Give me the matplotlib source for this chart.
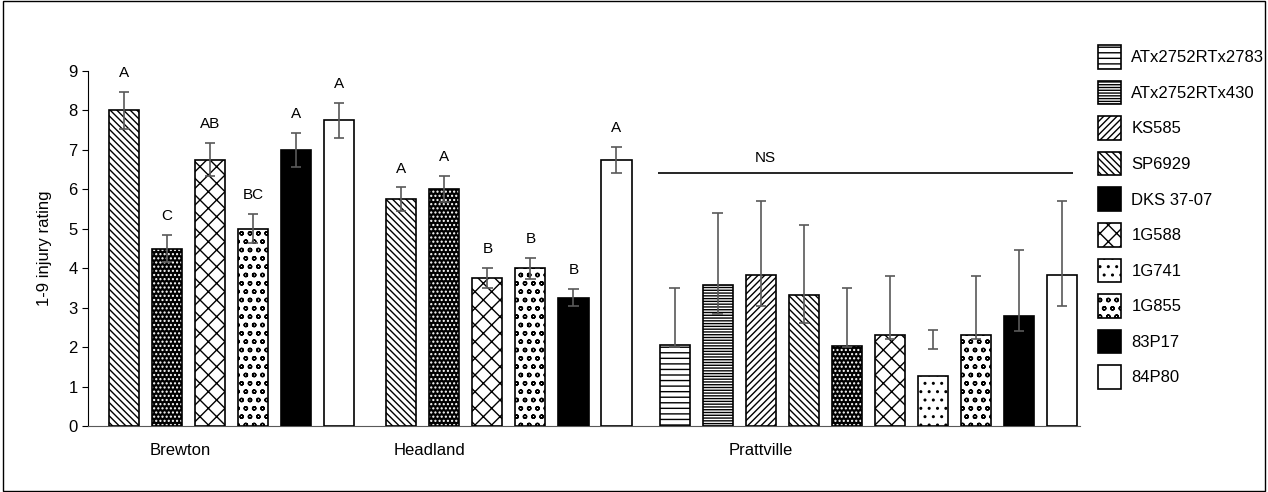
import matplotlib
matplotlib.use("Agg")
import matplotlib.pyplot as plt
from matplotlib.patches import Rectangle, Patch
import numpy as np

plt.rcParams['font.family'] = ['Liberation Sans', 'DejaVu Sans']
plt.rcParams['hatch.linewidth'] = 1.0

hybrids = ["ATx2752RTx2783", "ATx2752RTx430", "KS585", "SP6929", "DKS 37-07",
           "1G588", "1G741", "1G855", "83P17", "84P80"]
locations = ["Brewton", "Headland", "Prattville"]

brewton_hyb = ["SP6929", "DKS 37-07", "1G588", "1G855", "83P17", "84P80"]
brewton_val = [8.0, 4.5, 6.75, 5.0, 7.0, 7.75]
brewton_err = [0.47, 0.35, 0.42, 0.37, 0.43, 0.45]
brewton_let = ["A", "C", "AB", "BC", "A", "A"]

headland_hyb = ["SP6929", "DKS 37-07", "1G588", "1G855", "83P17", "84P80"]
headland_val = [5.75, 6.0, 3.75, 4.0, 3.25, 6.75]
headland_err = [0.3, 0.33, 0.25, 0.27, 0.22, 0.33]
headland_let = ["A", "A", "B", "B", "B", "A"]

pratt_hyb = hybrids
pratt_val = [2.05, 3.57, 3.83, 3.33, 2.03, 2.3, 1.28, 2.3, 2.8, 3.83]
pratt_low = [2.0, 2.85, 3.05, 2.62, 2.0, 2.2, 1.95, 2.2, 2.42, 3.03]
pratt_high = [3.5, 5.4, 5.7, 5.1, 3.5, 3.8, 2.43, 3.8, 4.47, 5.7]

styles = {
    "ATx2752RTx2783": dict(fc="white", hatch="---", hc="black"),
    "ATx2752RTx430": dict(fc="white", hatch="------", hc="black"),
    "KS585": dict(fc="white", hatch="/////", hc="black"),
    "SP6929": dict(fc="white", hatch="\\\\\\\\\\", hc="black"),
    "DKS 37-07": dict(fc="black", hatch="....", hc="white"),
    "1G588": dict(fc="white", hatch="xx", hc="black"),
    "1G741": dict(fc="white", hatch="..", hc="black"),
    "1G855": dict(fc="white", hatch="oo", hc="black"),
    "83P17": dict(fc="black", hatch=None, hc="black"),
    "84P80": dict(fc="white", hatch=None, hc="black"),
}

fig = plt.figure(figsize=(12.68, 4.92), dpi=100)
fig.patches.append(Rectangle((0.002, 0.003), 0.996, 0.994, transform=fig.transFigure,
                             fill=False, edgecolor="black", lw=1))
ax = fig.add_axes([88/1268, (492-426)/492, (1080-88)/1268, 355/492])

W = 0.7
def draw_bar(x, v, name):
    s = styles[name]
    ax.bar(x, v, W, color=s["fc"], edgecolor=s["hc"], hatch=s["hatch"], lw=0, zorder=2)
    ax.bar(x, v, W, fill=False, edgecolor="black", lw=1.2, zorder=3)

def errbar(x, lo, hi):
    ax.vlines(x, lo, hi, color="#595959", lw=1.2, zorder=4)
    ax.hlines([lo, hi], x-0.12, x+0.12, color="#595959", lw=1.2, zorder=4)

b_pos = np.arange(6) + 0.0
h_pos = np.arange(6) + 6.44
p_pos = np.arange(10) + 12.79

for x, v, e, n, l in zip(b_pos, brewton_val, brewton_err, brewton_hyb, brewton_let):
    draw_bar(x, v, n); errbar(x, v-e, v+e)
    ax.text(x, v+e+0.3, l, ha="center", va="bottom", fontsize=11)
for x, v, e, n, l in zip(h_pos, headland_val, headland_err, headland_hyb, headland_let):
    draw_bar(x, v, n); errbar(x, v-e, v+e)
    ax.text(x, v+e+0.3, l, ha="center", va="bottom", fontsize=11)
for x, v, lo, hi, n in zip(p_pos, pratt_val, pratt_low, pratt_high, pratt_hyb):
    draw_bar(x, v, n); errbar(x, lo, hi)

ax.hlines(6.42, 12.4, 22.05, color="black", lw=1.2)
ax.text(14.9, 6.62, "NS", ha="center", va="bottom", fontsize=11)

ax.set_xlim(-0.84, 22.21)
ax.set_ylim(0, 9)
ax.set_yticks(range(10))
ax.tick_params(axis="y", direction="out", labelsize=12, length=4)
ax.set_xticks([1.3, 7.1, 14.8])
ax.set_xticklabels(locations, fontsize=12)
ax.tick_params(axis="x", length=0, pad=12)
for s in ["top", "right"]:
    ax.spines[s].set_visible(False)
ax.spines["bottom"].set_color("#595959")
ax.set_ylabel("1-9 injury rating", fontsize=12, labelpad=12)

handles = []
for n in hybrids:
    s = styles[n]
    handles.append(Patch(facecolor=s["fc"], edgecolor="black", hatch=s["hatch"], lw=1.2))
fig.legend(handles, hybrids, loc="upper left", bbox_to_anchor=(1083/1268, 1 - 30/492),
           frameon=False, fontsize=12, handlelength=1.4, handleheight=1.8,
           labelspacing=0.72, handletextpad=0.6)

fig.savefig("out.png", dpi=100)
